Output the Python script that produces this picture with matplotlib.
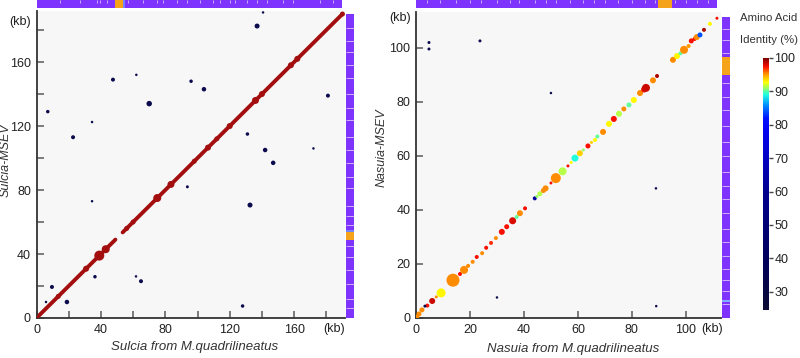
import numpy as np
import matplotlib
matplotlib.use('Agg')
import matplotlib.pyplot as plt
from matplotlib.colors import LinearSegmentedColormap, Normalize
from matplotlib.cm import ScalarMappable

plt.rcParams['font.family'] = ['Liberation Sans', 'DejaVu Sans']

# ---- Sulcia (left) ----
sulcia_len = 190.0
sulcia_segments = [(0.0, 49.0), (53.5, 190.0)]          # syntenic diagonal runs (kb)
sulcia_diag_x = [0, 13.5, 30.8, 39, 43, 56, 60, 75, 83.5, 98, 106.5, 112, 120, 136, 140, 158, 162, 190]
sulcia_diag_len = [6, 5, 6, 10, 8, 5, 5, 8, 7, 5, 6, 5, 6, 7, 6, 6, 6, 5]
sulcia_off_x = [140.7, 137, 47.5, 62, 96, 104, 70, 7, 181, 22.7, 34.5, 131, 142, 147, 172, 93.7, 34.5, 132.6,
                9.6, 5.9, 18.9, 36.3, 61.8, 64.9, 128]
sulcia_off_y = [191, 182.5, 149, 152, 148, 143, 134, 129, 139, 113, 122.5, 115, 105, 97, 106, 82, 73, 70.6,
                19.4, 10, 10, 25.8, 26, 23, 7.5]
sulcia_off_len = [2.5, 5, 4, 2.5, 3.5, 4.5, 5.5, 3.5, 4, 4, 2.5, 3.5, 4.5, 4.5, 2.5, 3, 2.5, 5,
                  4, 2.5, 4.5, 3.5, 2.5, 4, 3.5]
sulcia_top_gaps = [14.6, 27, 37.6, 39.4, 43.8, 56.8, 66, 74.8, 78.6, 87.3, 93.5, 101.6, 109.6, 114,
                   120, 123.3, 130.7, 137, 143, 153, 159, 176, 184]
sulcia_side_gaps = [6, 12, 21, 30, 38, 45, 58, 64, 70, 81, 88, 97, 105, 113, 124, 131, 140, 150, 158,
                    166, 173, 181]
sulcia_hits = [(49.0, 53.7, '#f5a31a'), (53.7, 55.0, '#6f86ff')]

# ---- Nasuia (right) ----
nasuia_len = 111.5
nasuia_x = [0.3, 1.1, 2.2, 4.2, 6.0, 7.5, 9.3, 13.7, 16.3, 17.8, 19.3, 21, 22.5, 24.5, 26, 27.8, 29.6,
            31.8, 33.6, 35.8, 37.3, 38.5, 40.4, 44, 44.8, 45.9, 47.2, 48, 50, 51.8, 54.3, 56.3, 57.5,
            58.9, 60.7, 62, 63.7, 65, 66.3, 67.2, 69.3, 71.5, 73.3, 75.2, 77, 78.9, 80.7, 83, 84.5,
            85.2, 87.8, 89.3, 95.2, 96.7, 98, 99.3, 101, 102, 103.2, 104, 105.2, 106.7, 108.9, 111.5]
nasuia_y = [0.3, 1.5, 3.0, 4.6, 6.3, 7.8, 9.3, 14, 16.3, 17.8, 19.3, 20.8, 22.6, 24, 26, 27.8, 29.6,
            31.9, 33.8, 36, 37.4, 38.8, 40.6, 44.3, 45, 46, 47.2, 48, 50, 51.8, 54.3, 56.3, 57.6,
            59.2, 61, 62.2, 63.7, 65, 65.9, 67.2, 68.9, 71.9, 73.7, 75.6, 77.4, 78.9, 80.7, 83.3, 84.6,
            85.2, 88, 89.6, 95.6, 97, 98, 99.3, 100.7, 102.6, 103.3, 104, 104.8, 106.7, 108.9, 111]
nasuia_ident = [95.5, 95.5, 95.5, 97.5, 98.5, 95.5, 93, 95.5, 97.5, 95.5, 95.5, 95.5, 97.5, 95.5, 97.5,
                97, 95.5, 97.5, 97.5, 98, 90, 95.5, 97.5, 62, 91, 91.5, 95.5, 95.5, 97.5, 95.5, 91.5,
                97.5, 93, 89, 94, 91, 97.5, 94, 93, 90, 95.5, 93, 97.5, 91.5, 95.5, 90, 93, 95.5, 97.5,
                98.5, 95.5, 99, 95.5, 93, 90, 95.5, 95, 97.5, 97.5, 95.5, 84, 99, 93, 97.5]
nasuia_size = [5, 5, 5, 4, 6, 3, 9, 13, 4, 8, 4, 4, 4, 4, 4, 4, 4, 6, 5, 7, 4, 6, 4, 4, 3, 5, 5, 6, 3,
               10, 8, 3, 3, 7, 6, 3, 5, 3, 4, 4, 6, 6, 6, 6, 5, 5, 6, 6, 6, 8, 6, 4, 6, 6, 4, 8, 4, 5,
               4, 6, 5, 4, 4, 3]
nasuia_off_x = [3.3, 4.8, 4.8, 23.7, 50, 88.9, 30, 89]
nasuia_off_y = [4.4, 102, 99.6, 102.6, 83.3, 48, 7.6, 4.4]
nasuia_off_size = [3, 3, 3, 3, 2.5, 2.5, 2.5, 2.5]
nasuia_top_gaps = [4, 9, 15, 20, 24, 30, 35, 38, 44, 48, 52, 57, 62, 66, 70, 75, 80, 85, 88.5,
                   96, 100, 104, 108]
nasuia_side_gaps = [5, 10, 14, 18, 23, 28, 33, 39, 44, 49, 54, 60, 65, 71, 77, 82, 87, 98, 103, 107]
nasuia_hits = [(89.6, 95.0, '#f5a31a')]
nasuia_side_hits = [(90.0, 96.5, '#f5a31a'), (6.0, 6.6, '#7fb0ff')]

# identity colour scale
cmap_vals = [24.5, 40, 60, 78, 82, 86, 89, 91, 93, 95.5, 97.5, 100]
cmap_cols = ['#0b0b33', '#00005c', '#00008f', '#0000ee', '#0010ff', '#0090ff', '#20ffdf',
             '#8fff70', '#ffff00', '#ff9000', '#ff1000', '#800000']
vmin, vmax = 24.5, 100
cmap = LinearSegmentedColormap.from_list(
    'ident', [((v - vmin) / (vmax - vmin), c) for v, c in zip(cmap_vals, cmap_cols)])
norm = Normalize(vmin, vmax)

W, H = 800, 358
fig = plt.figure(figsize=(8, 3.58), dpi=100)

def px_axes(x0, y0, x1, y1):
    return fig.add_axes([x0 / W, 1 - y1 / H, (x1 - x0) / W, (y1 - y0) / H])

PURPLE = '#7f33ff'
NAVY = '#0b0b4d'
FS = 9

def s_of(d):
    return (np.asarray(d) * 0.72) ** 2

def style_main(ax):
    ax.set_facecolor('#f7f7f7')
    for sp in ['top', 'right']:
        ax.spines[sp].set_visible(False)
    for sp in ['left', 'bottom']:
        ax.spines[sp].set_color('#333333')
        ax.spines[sp].set_linewidth(1.3)
    ax.tick_params(direction='in', length=5, width=1.2, color='#666666',
                   labelsize=FS, labelcolor='#222222', pad=4)

def strip_h(ax, length, gaps, hits):
    ax.barh(0, length, left=0, height=1, color=PURPLE)
    for a, b, c in hits:
        ax.barh(0, b - a, left=a, height=1, color=c)
    ax.vlines(gaps, 0.15, 0.5, color='white', lw=0.6, alpha=0.7)
    ax.set_ylim(-0.5, 0.5)
    ax.axis('off')

def strip_v(ax, length, gaps, hits):
    ax.bar(0, length, bottom=0, width=1, color=PURPLE)
    for a, b, c in hits:
        ax.bar(0, b - a, bottom=a, width=1, color=c)
    ax.hlines(gaps, -0.5, 0.5, color='white', lw=0.6, alpha=0.7)
    ax.set_xlim(-0.5, 0.5)
    ax.axis('off')

# ---------- left panel ----------
ax1 = px_axes(36.5, 11, 345, 318)
style_main(ax1)
ax1.set_xlim(0, 191.6)
ax1.set_ylim(0, 191.9)
for a, b in sulcia_segments:
    ax1.plot([a, b], [a, b], color='#a30f0f', lw=2.8, solid_capstyle='round', zorder=2)
ax1.scatter(sulcia_diag_x, sulcia_diag_x, s=s_of(sulcia_diag_len), color='#a30f0f', lw=0, zorder=3)
ax1.scatter(sulcia_off_x, sulcia_off_y, s=s_of(sulcia_off_len), color=NAVY, lw=0, zorder=3)
ax1.set_xticks(np.arange(0, 181, 20))
ax1.set_xticklabels([str(v) if v % 40 == 0 else '' for v in range(0, 181, 20)])
ax1.set_yticks(np.arange(0, 181, 20))
ax1.set_yticklabels([str(v) if v % 40 == 0 else '' for v in range(0, 181, 20)])
fig.text(334 / W, 1 - 329 / H, '(kb)', ha='center', va='center', fontsize=FS, color='#222222')
fig.text(20 / W, 1 - 22 / H, '(kb)', ha='center', va='center', fontsize=FS, color='#222222')
fig.text(195 / W, 1 - 347 / H, 'Sulcia from M.quadrilineatus', ha='center', va='center',
         fontsize=9.5, style='italic', color='#333333')
fig.text(5.5 / W, 1 - 160 / H, 'Sulcia-MSEV', ha='center', va='center', rotation=90,
         fontsize=9, style='italic', color='#333333')

st1 = px_axes(36.5, 0, 345, 8)
st1.set_xlim(0, 191.6)
strip_h(st1, sulcia_len, sulcia_top_gaps, sulcia_hits)
sv1 = px_axes(346, 11, 354, 318)
sv1.set_ylim(0, 191.9)
strip_v(sv1, sulcia_len, sulcia_side_gaps, sulcia_hits)

# ---------- right panel ----------
ax2 = px_axes(416, 12, 721, 318)
style_main(ax2)
ax2.set_xlim(0, 113)
ax2.set_ylim(0, 113.3)
ax2.scatter(nasuia_x, nasuia_y, s=s_of(nasuia_size), c=nasuia_ident, cmap=cmap, norm=norm,
            lw=0, zorder=3)
ax2.scatter(nasuia_off_x, nasuia_off_y, s=s_of(nasuia_off_size), color=NAVY, lw=0, zorder=3)
ax2.set_xticks(np.arange(0, 101, 20))
ax2.set_yticks(np.arange(0, 101, 20))
fig.text(712 / W, 1 - 329 / H, '(kb)', ha='center', va='center', fontsize=FS, color='#222222')
fig.text(400 / W, 1 - 18 / H, '(kb)', ha='center', va='center', fontsize=FS, color='#222222')
fig.text(573 / W, 1 - 349 / H, 'Nasuia from M.quadrilineatus', ha='center', va='center',
         fontsize=9.5, style='italic', color='#333333')
fig.text(382 / W, 1 - 148 / H, 'Nasuia-MSEV', ha='center', va='center', rotation=90,
         fontsize=9, style='italic', color='#333333')

st2 = px_axes(416, 0, 721, 8)
st2.set_xlim(0, 113)
strip_h(st2, nasuia_len, nasuia_top_gaps, nasuia_hits)
sv2 = px_axes(722, 12, 730, 318)
sv2.set_ylim(0, 113.3)
strip_v(sv2, nasuia_len, nasuia_side_gaps, nasuia_side_hits)

# ---------- colour bar ----------
cax = px_axes(763, 58, 769, 310)
cb = fig.colorbar(ScalarMappable(norm=norm, cmap=cmap), cax=cax)
cb.outline.set_visible(False)
cb.set_ticks(np.arange(30, 101, 10))
cax.tick_params(length=3, width=1, color='#444444', labelsize=FS, labelcolor='#222222', pad=1)
fig.text(740 / W, 1 - 18 / H, 'Amino Acid', ha='left', va='center', fontsize=8.2, color='#333333')
fig.text(740 / W, 1 - 40 / H, 'Identity (%)', ha='left', va='center', fontsize=8.2, color='#333333')

fig.savefig('out.png', dpi=100)
